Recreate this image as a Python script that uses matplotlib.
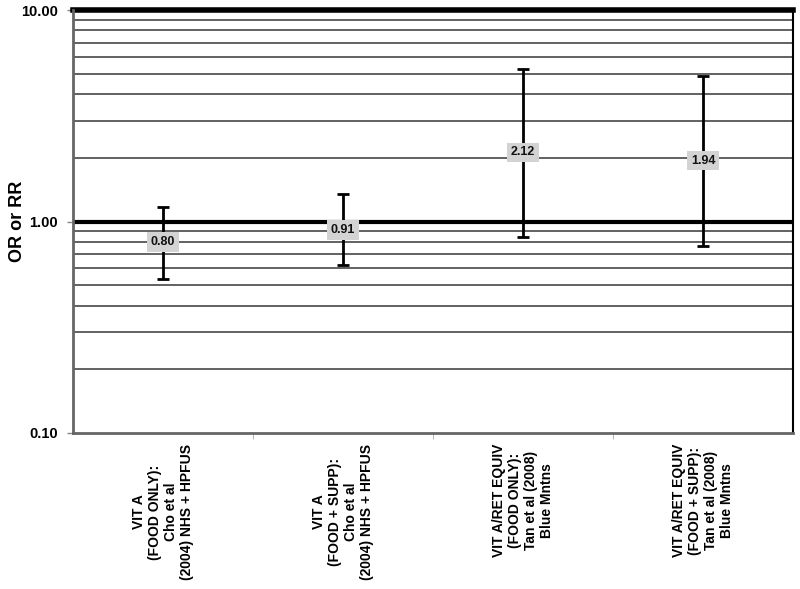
import matplotlib
matplotlib.use("Agg")
import matplotlib.pyplot as plt
from matplotlib.ticker import FixedLocator, NullFormatter

categories = [
    "VIT A\n(FOOD ONLY):\nCho et al\n(2004) NHS + HPFUS",
    "VIT A\n(FOOD + SUPP):\nCho et al\n(2004) NHS + HPFUS",
    "VIT A/RET EQUIV\n(FOOD ONLY):\nTan et al (2008)\nBlue Mntns",
    "VIT A/RET EQUIV\n(FOOD + SUPP):\nTan et al (2008)\nBlue Mntns",
]
estimates = [0.80, 0.91, 2.12, 1.94]
lower = [0.535, 0.62, 0.845, 0.77]
upper = [1.17, 1.35, 5.26, 4.87]
ytick_vals = [0.1, 1.0, 10.0]
ytick_labels = ["0.10", "1.00", "10.00"]
grid_vals = [0.2, 0.3, 0.4, 0.5, 0.6, 0.7, 0.8, 0.9,
             2, 3, 4, 5, 6, 7, 8, 9]

plt.rcParams['font.family'] = ['Liberation Sans', 'DejaVu Sans']

fig = plt.figure(figsize=(8, 5.89), dpi=100)
ax = fig.add_axes([73/800, 1-433/589, 720/800, 423/589])
ax.set_yscale('log')
ax.set_ylim(0.1, 10)
ax.set_xlim(-0.5, len(categories)-0.5)

for g in grid_vals:
    ax.axhline(g, color='#555555', lw=1.3, zorder=1)
ax.axhline(1.0, color='black', lw=3, zorder=2)
ax.axhline(10.0, color='black', lw=4, zorder=2, clip_on=False)

x = list(range(len(categories)))
yerr = [[e - l for e, l in zip(estimates, lower)],
        [u - e for e, u in zip(estimates, upper)]]
ax.errorbar(x, estimates, yerr=yerr, fmt='none', ecolor='black',
            elinewidth=2, capsize=4, capthick=2, zorder=3)
for xi, e in zip(x, estimates):
    ax.text(xi, e, f"{e:.2f}", ha='center', va='center', fontsize=9,
            fontweight='bold', zorder=4, color='#111111',
            bbox=dict(boxstyle='square,pad=0.3', fc='#d3d3d3', ec='none'))

ax.yaxis.set_major_locator(FixedLocator(ytick_vals))
ax.set_yticklabels(ytick_labels, fontsize=10.5, fontweight='bold')
ax.yaxis.set_minor_formatter(NullFormatter())
ax.yaxis.set_minor_locator(FixedLocator([]))
ax.tick_params(axis='y', which='major', length=4, color='#888888', width=1, pad=7)

ax.set_xticks(x)
ax.set_xticklabels(categories, rotation=90, fontsize=10, fontweight='bold',
                   ha='center', va='top', multialignment='center')
ax.set_xticks([0.5, 1.5, 2.5], minor=True)
ax.tick_params(axis='x', which='major', length=0, pad=8)
ax.tick_params(axis='x', which='minor', length=4, color='#aaaaaa')

ax.set_ylabel("OR or RR", fontsize=13, fontweight='bold')
ax.yaxis.set_label_coords(-47/720, 0.5)

ax.spines['left'].set_color('#666666')
ax.spines['left'].set_linewidth(2)
ax.spines['bottom'].set_color('#666666')
ax.spines['bottom'].set_linewidth(2)
ax.spines['right'].set_color('black')
ax.spines['right'].set_linewidth(1.5)
ax.spines['top'].set_visible(False)

fig.savefig("out.png", dpi=100)
